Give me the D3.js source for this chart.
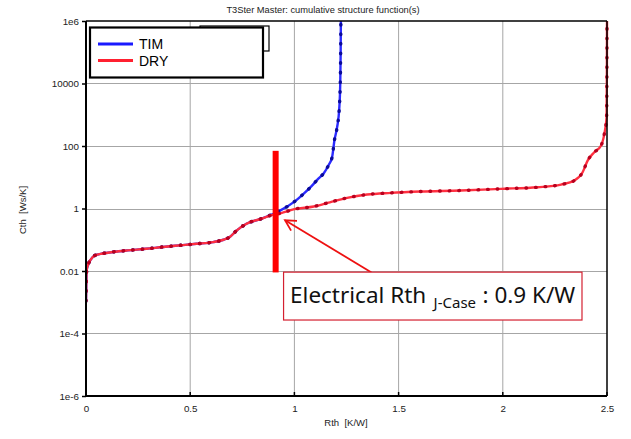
<!DOCTYPE html>
<html><head><meta charset="utf-8">
<script src="https://cdn.jsdelivr.net/npm/d3@7"></script>
<style>body{margin:0;background:#fff}svg{display:block}</style>
</head><body>
<svg id="c" width="631" height="439"></svg>
<script>
// ---- data ----
const xTicks = [0, 0.5, 1, 1.5, 2, 2.5];
const xTickLabels = ["0", "0.5", "1", "1.5", "2", "2.5"];
const yTicks = [1e6, 1e4, 1e2, 1, 1e-2, 1e-4, 1e-6];
const yTickLabels = ["1e6", "10000", "100", "1", "0.01", "1e-4", "1e-6"];
const seriesNames = ["TIM", "DRY"];

const timRth = [0, 0.001, 0.003, 0.01, 0.02, 0.043, 0.08, 0.13, 0.2, 0.29, 0.37, 0.45, 0.53, 0.61, 0.66, 0.69, 0.724, 0.77, 0.84, 0.90, 0.933, 0.997, 1.04, 1.08, 1.115, 1.141, 1.165, 1.181, 1.192, 1.205, 1.215, 1.220, 1.222, 1.223];
const timCth = [0.0011, 0.0032, 0.0105, 0.0158, 0.0219, 0.0316, 0.0363, 0.0407, 0.0457, 0.0513, 0.0589, 0.0661, 0.0741, 0.0841, 0.1, 0.123, 0.2, 0.324, 0.468, 0.68, 0.87, 1.6, 2.8, 5.0, 9, 13.5, 25, 44, 150, 400, 1500, 10000, 100000, 1e6];

const dryRth = [0, 0.001, 0.003, 0.01, 0.02, 0.043, 0.08, 0.13, 0.2, 0.29, 0.37, 0.45, 0.53, 0.61, 0.66, 0.69, 0.724, 0.77, 0.84, 0.90, 0.933, 1.0, 1.093, 1.17, 1.253, 1.349, 1.462, 1.606, 1.798, 1.99, 2.167, 2.279, 2.343, 2.383, 2.407, 2.439, 2.471, 2.487, 2.498, 2.4995, 2.5];
const dryCth = [0.0011, 0.0032, 0.0105, 0.0158, 0.0219, 0.0316, 0.0363, 0.0407, 0.0457, 0.0513, 0.0589, 0.0661, 0.0741, 0.0841, 0.1, 0.123, 0.2, 0.324, 0.468, 0.64, 0.70, 0.95, 1.16, 1.58, 2.19, 2.8, 3.16, 3.49, 3.76, 4.26, 4.79, 5.83, 7.83, 14.5, 34, 63, 102, 240, 810, 3.2e4, 1e6];

// annotation (data space)
const barRth = 0.91, barCthTop = 70, barCthBottom = 0.009;
const arrowTip = [0.955, 0.42], arrowTail = [1.37, 0.009];
const boxFrom = [0.948, 0.0092], boxTo = [2.38, 0.00027];

// ---- layout ----
const svg = d3.select("#c");
const L = 86, R = 607, T = 21, B = 396;
const x = d3.scaleLinear().domain([0, 2.5]).range([L, R]);
const y = d3.scaleLog().domain([1e-6, 1e6]).range([B, T]);
const font = "'Liberation Sans', Arial, sans-serif";

// title
svg.append("text").attr("x", 323).attr("y", 13).attr("text-anchor", "middle")
  .attr("font-family", font).attr("font-size", 9.3).attr("fill", "#222")
  .text("T3Ster Master: cumulative structure function(s)");

// grid
const g = svg.append("g");
g.selectAll(".gx").data(xTicks.slice(1, -1)).join("line")
  .attr("x1", d => x(d)).attr("x2", d => x(d)).attr("y1", T).attr("y2", B)
  .attr("stroke", "#a6a6a6").attr("stroke-width", 1);
g.selectAll(".gy").data(yTicks.slice(1, -1)).join("line")
  .attr("y1", d => Math.round(y(d)) + 0.5).attr("y2", d => Math.round(y(d)) + 0.5).attr("x1", L).attr("x2", R)
  .attr("stroke", "#a6a6a6").attr("stroke-width", 1);

// axes
const xAxis = d3.axisBottom(x).tickValues(xTicks).tickFormat((d, i) => xTickLabels[i]).tickSize(0).tickPadding(9);
const xg = svg.append("g").attr("transform", `translate(0,${B})`).call(xAxis);
xg.select(".domain").remove();
xg.selectAll("text").attr("font-family", font).attr("font-size", 9.8).attr("fill", "#222");
const yAxis = d3.axisLeft(y).tickValues(yTicks).tickFormat((d, i) => yTickLabels[i]).tickSize(4).tickPadding(3);
const yg = svg.append("g").attr("transform", `translate(${L},0)`).call(yAxis);
yg.select(".domain").remove();
yg.selectAll("line").attr("stroke", "#000").attr("stroke-width", 1.5);
yg.selectAll("text").attr("font-family", font).attr("font-size", 9.8).attr("fill", "#222");
// x inward ticks
svg.append("g").selectAll("line").data(xTicks).join("line")
  .attr("x1", d => x(d)).attr("x2", d => x(d)).attr("y1", B).attr("y2", B - 4)
  .attr("stroke", "#000").attr("stroke-width", 1.5);

// axis titles
svg.append("text").attr("x", 346).attr("y", 426).attr("text-anchor", "middle")
  .attr("font-family", font).attr("font-size", 9.5).attr("fill", "#222").attr("xml:space", "preserve")
  .text("Rth  [K/W]");
svg.append("text").attr("transform", "translate(26,210) rotate(-90)").attr("text-anchor", "middle")
  .attr("font-family", font).attr("font-size", 9.5).attr("fill", "#222").attr("xml:space", "preserve")
  .text("Cth  [Ws/K]");

// clip
svg.append("clipPath").attr("id", "clip").append("rect")
  .attr("x", L).attr("y", T - 2).attr("width", R - L + 2).attr("height", B - T + 2);

const line = d3.line().x(d => x(d[0])).y(d => y(d[1])).curve(d3.curveMonotoneX);
const timData = timRth.map((r, i) => [r, timCth[i]]);
const dryData = dryRth.map((r, i) => [r, dryCth[i]]);
const plot = svg.append("g").attr("clip-path", "url(#clip)");
function drawSeries(data, color, dotColor) {
  plot.append("path").attr("d", line(data)).attr("fill", "none")
    .attr("stroke", color).attr("stroke-width", 2.4).attr("stroke-linejoin", "round");
  plot.append("path").attr("d", line(data)).attr("fill", "none")
    .attr("stroke", dotColor).attr("stroke-width", 3.4).attr("stroke-linecap", "round")
    .attr("stroke-dasharray", "0.6 9");
}
drawSeries(timData, "#2a2aff", "#0a0a9a");
drawSeries(dryData, "#ff3040", "#b8001e");

// frame
svg.append("line").attr("x1", L).attr("x2", R).attr("y1", T).attr("y2", T).attr("stroke", "#000").attr("stroke-width", 1.5);
svg.append("line").attr("x1", R).attr("x2", R).attr("y1", T).attr("y2", B).attr("stroke", "#000").attr("stroke-width", 1.5);
svg.append("line").attr("x1", L).attr("x2", L).attr("y1", T).attr("y2", B + 1).attr("stroke", "#000").attr("stroke-width", 2);
svg.append("line").attr("x1", L - 1).attr("x2", R).attr("y1", B).attr("y2", B).attr("stroke", "#000").attr("stroke-width", 2);

// legend
svg.append("rect").attr("x", 200).attr("y", 26).attr("width", 69).attr("height", 25)
  .attr("fill", "#fff").attr("stroke", "#000").attr("stroke-width", 1.2);
svg.append("rect").attr("x", 90).attr("y", 27.5).attr("width", 173).attr("height", 50)
  .attr("fill", "#fff").attr("stroke", "#000").attr("stroke-width", 2.2);
const legColors = ["#1a1aff", "#ff2030"];
seriesNames.forEach((n, i) => {
  const ly = 44 + i * 16.5;
  svg.append("line").attr("x1", 98).attr("x2", 133).attr("y1", ly).attr("y2", ly)
    .attr("stroke", legColors[i]).attr("stroke-width", 3.2);
  svg.append("text").attr("x", 139).attr("y", ly + 5).attr("font-family", font)
    .attr("font-size", 14).attr("fill", "#000").text(n);
});

// annotation
svg.append("rect").attr("x", x(barRth) - 3).attr("y", y(barCthTop)).attr("width", 6)
  .attr("height", y(barCthBottom) - y(barCthTop)).attr("fill", "#ff0000");
const tx = x(arrowTip[0]), ty = y(arrowTip[1]), sx = x(arrowTail[0]), sy = y(arrowTail[1]);
svg.append("line").attr("x1", sx).attr("y1", sy).attr("x2", tx).attr("y2", ty)
  .attr("stroke", "#ee1111").attr("stroke-width", 1.8);
const ang = Math.atan2(sy - ty, sx - tx), hl = 12, ha = 0.5;
svg.append("path").attr("d", `M${tx + hl * Math.cos(ang - ha)},${ty + hl * Math.sin(ang - ha)}L${tx},${ty}L${tx + hl * Math.cos(ang + ha)},${ty + hl * Math.sin(ang + ha)}`)
  .attr("fill", "none").attr("stroke", "#ee1111").attr("stroke-width", 1.8);
const bx = x(boxFrom[0]), by = y(boxFrom[1]), bw = x(boxTo[0]) - bx, bh = y(boxTo[1]) - by;
svg.append("rect").attr("x", bx).attr("y", by).attr("width", bw).attr("height", bh)
  .attr("fill", "#fff").attr("stroke", "#d42030").attr("stroke-width", 1.2);
const afont = "'Noto Sans', 'Open Sans', sans-serif";
const at = svg.append("text").attr("font-family", afont).attr("fill", "#111");
at.append("tspan").attr("x", bx + 6.5).attr("y", by + 31).attr("font-size", 22.5).text("Electrical Rth");
at.append("tspan").attr("x", bx + 150).attr("y", by + 36).attr("font-size", 15).text("J-Case");
at.append("tspan").attr("x", bx + 199).attr("y", by + 31).attr("font-size", 22.5).text(": 0.9 K/W");
</script>
</body></html>
